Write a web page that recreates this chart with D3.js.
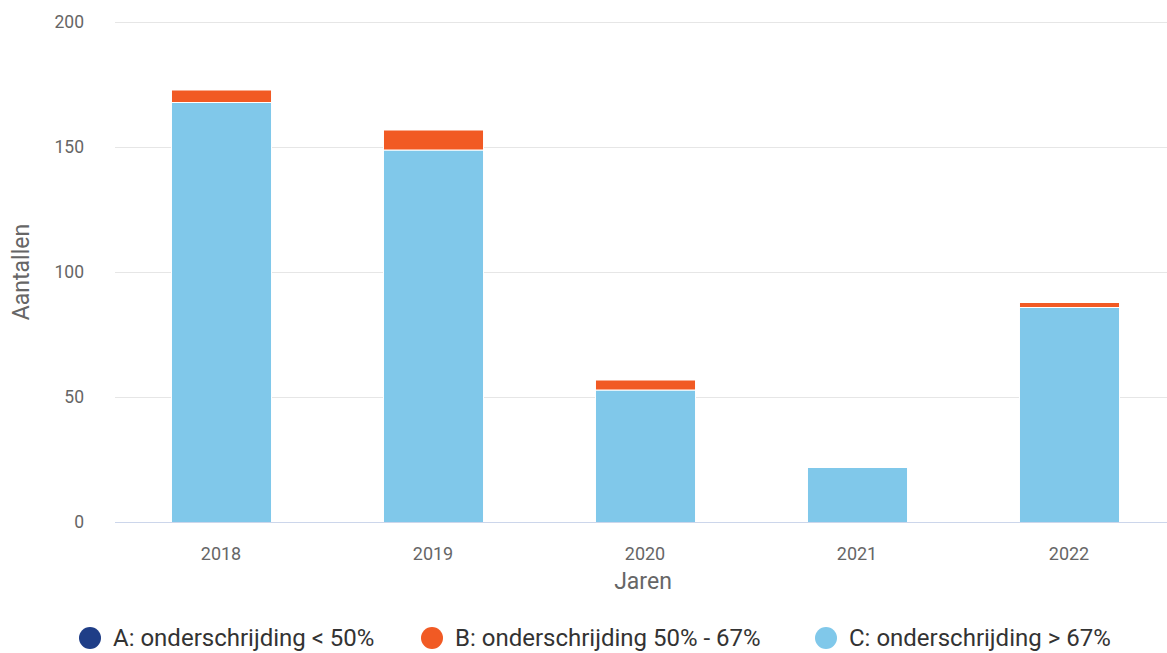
<!DOCTYPE html>
<html><head><meta charset="utf-8">
<script src="https://cdn.jsdelivr.net/npm/d3@7"></script>
<style>
html,body{margin:0;padding:0;background:#fff;}
svg text{font-family:"Roboto",sans-serif;}
</style></head>
<body><svg id="c" width="1167" height="653"></svg>
<script>
const years = ["2018","2019","2020","2021","2022"];
const seriesA = [0,0,0,0,0];
const seriesB = [5,8,4,0,2];
const seriesC = [168,149,53,22,86];
const yTicks = [0,50,100,150,200];
const seriesNames = ["A: onderschrijding < 50%","B: onderschrijding 50% - 67%","C: onderschrijding > 67%"];
const colors = ["#1f3e87","#f15a24","#80c8ea"];

const svg = d3.select("#c");
const x = d3.scaleBand().domain(years).range([115,1175]).paddingInner(0.528).paddingOuter(0.264);
const y = d3.scaleLinear().domain([0,200]).range([522,22]);

// grid
svg.append("g").selectAll("line").data(yTicks.filter(d=>d>0)).join("line")
  .attr("x1",115).attr("x2",1167).attr("y1",d=>y(d)+0.5).attr("y2",d=>y(d)+0.5)
  .attr("stroke","#e6e6e6").attr("stroke-width",1);

// y labels
svg.append("g").selectAll("text").data(yTicks).join("text")
  .attr("x",84).attr("y",d=>y(d)+6).attr("text-anchor","end")
  .attr("font-size",17.5).attr("fill","#666").text(d=>d);

// stacked
const rows = years.map((yr,i)=>({year:yr,A:seriesA[i],B:seriesB[i],C:seriesC[i]}));
const stack = d3.stack().keys(["C","B","A"])(rows);
const colMap = {A:colors[0],B:colors[1],C:colors[2]};
stack.forEach(layer=>{
  svg.append("g").selectAll("rect").data(layer.filter(d=>d[1]-d[0]>0)).join("rect")
    .attr("x",d=>x(d.data.year)+0.5).attr("width",x.bandwidth())
    .attr("y",d=>y(d[1])+0.5).attr("height",d=>y(d[0])-y(d[1]))
    .attr("fill",colMap[layer.key]).attr("stroke","#fff").attr("stroke-width",1);
});

// x axis line
svg.append("line").attr("x1",115).attr("x2",1167).attr("y1",522.5).attr("y2",522.5)
  .attr("stroke","#ccd6eb").attr("stroke-width",1);

// x labels
svg.append("g").selectAll("text").data(years).join("text")
  .attr("x",d=>x(d)+x.bandwidth()/2).attr("y",560).attr("text-anchor","middle")
  .attr("font-size",18).attr("fill","#666").text(d=>d);

svg.append("text").attr("x",643).attr("y",589).attr("text-anchor","middle")
  .attr("font-size",23).attr("fill","#666").text("Jaren");
svg.append("text").attr("transform","translate(29,272) rotate(-90)").attr("text-anchor","middle")
  .attr("font-size",23).attr("fill","#666").text("Aantallen");

// legend
const legX = [90,432,826];
const lg = svg.append("g").selectAll("g").data(seriesNames).join("g")
  .attr("transform",(d,i)=>`translate(${legX[i]},638)`);
lg.append("circle").attr("r",11).attr("fill",(d,i)=>colors[i]);
lg.append("text").attr("x",23).attr("y",8).attr("font-size",24).attr("fill","#333").text(d=>d);
</script></body></html>
